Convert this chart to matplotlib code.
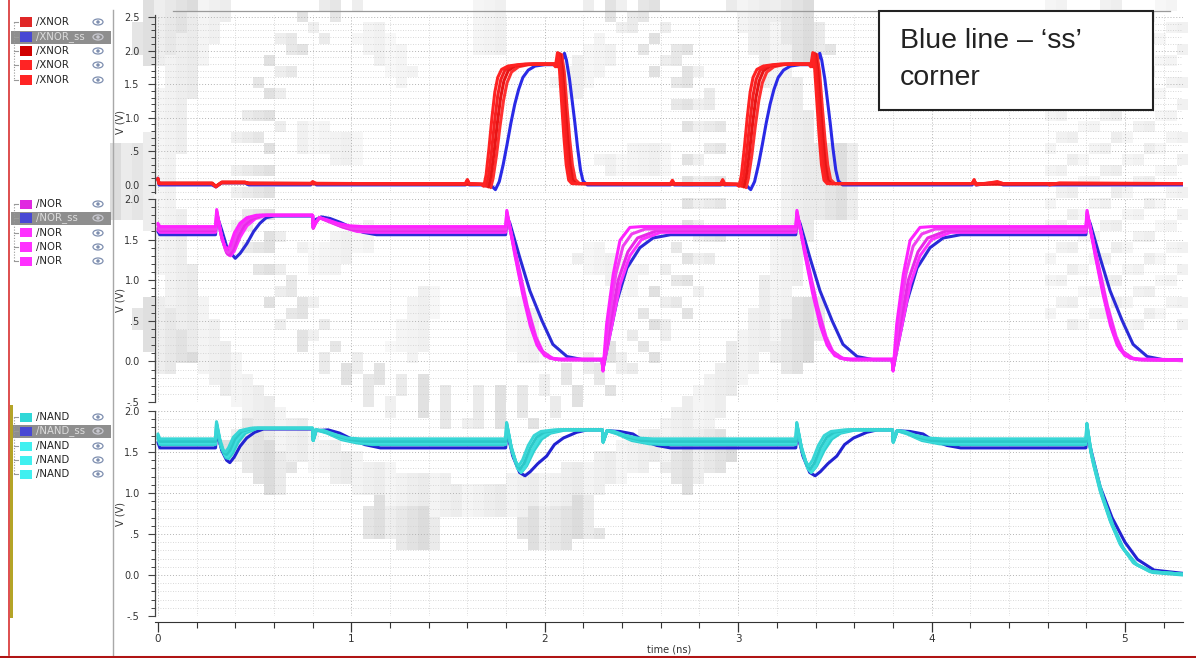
import numpy as np
import matplotlib
matplotlib.use("Agg")
import matplotlib.pyplot as plt
from matplotlib.lines import Line2D
from matplotlib.patches import Rectangle, Ellipse
from matplotlib.ticker import MultipleLocator, FuncFormatter

# ---------------------------------------------------------------------------
# Transient waveforms (time in ns, voltage in V), one list per process corner
# ---------------------------------------------------------------------------
xnor_ss = [(0.000, 0.10), (0.006, 0.00), (0.280, 0.00), (0.300, -0.03), (0.330, 0.03), (0.450, 0.03), (0.470, 0.00),
           (0.790, 0.00), (0.800, 0.04), (0.820, 0.00), (1.590, 0.00), (1.600, 0.06), (1.610, 0.00),
           (1.720, 0.00), (1.745, -0.07), (1.765, 0.05), (1.785, 0.30), (1.805, 0.60), (1.825, 0.92), (1.845, 1.20),
           (1.865, 1.42), (1.887, 1.60), (1.915, 1.71), (1.950, 1.77), (2.000, 1.79),
           (2.080, 1.79), (2.090, 1.85), (2.102, 1.96), (2.112, 1.86), (2.128, 1.58), (2.142, 1.25), (2.156, 0.92),
           (2.170, 0.55), (2.185, 0.22), (2.198, 0.06), (2.220, 0.00),
           (2.650, 0.00), (2.660, 0.05), (2.670, 0.00), (2.910, 0.00), (2.920, 0.06), (2.930, 0.00),
           (3.040, 0.00), (3.065, -0.07), (3.085, 0.05), (3.105, 0.30), (3.125, 0.60), (3.145, 0.92), (3.165, 1.20),
           (3.185, 1.42), (3.207, 1.60), (3.235, 1.71), (3.270, 1.77), (3.320, 1.79),
           (3.400, 1.79), (3.410, 1.85), (3.422, 1.96), (3.432, 1.86), (3.448, 1.58), (3.462, 1.25), (3.476, 0.92),
           (3.490, 0.55), (3.505, 0.22), (3.518, 0.06), (3.540, 0.00),
           (4.210, 0.00), (4.220, 0.06), (4.230, 0.00), (4.300, 0.02), (4.340, 0.03), (4.370, 0.00), (5.300, 0.00)]

xnor_c1 = [(0.000, 0.10), (0.006, 0.02), (0.280, 0.02), (0.300, -0.03), (0.330, 0.04), (0.450, 0.04), (0.470, 0.02),
           (0.790, 0.02), (0.800, 0.05), (0.820, 0.02), (1.590, 0.02), (1.600, 0.08), (1.610, 0.02),
           (1.670, 0.01), (1.685, -0.02), (1.697, 0.15), (1.712, 0.55), (1.727, 1.00), (1.742, 1.38), (1.757, 1.60),
           (1.777, 1.72), (1.810, 1.77), (1.860, 1.79), (1.900, 1.80),
           (2.045, 1.80), (2.055, 1.76), (2.066, 1.97), (2.076, 1.72), (2.088, 1.20), (2.099, 0.72), (2.111, 0.30),
           (2.124, 0.07), (2.140, 0.02),
           (2.650, 0.02), (2.660, 0.07), (2.670, 0.02), (2.910, 0.02), (2.920, 0.08), (2.930, 0.02),
           (2.990, 0.01), (3.005, -0.02), (3.017, 0.15), (3.032, 0.55), (3.047, 1.00), (3.062, 1.38), (3.077, 1.60),
           (3.097, 1.72), (3.130, 1.77), (3.180, 1.79), (3.220, 1.80),
           (3.365, 1.80), (3.375, 1.76), (3.386, 1.97), (3.396, 1.72), (3.408, 1.20), (3.419, 0.72), (3.431, 0.30),
           (3.444, 0.07), (3.460, 0.02),
           (4.210, 0.02), (4.220, 0.08), (4.230, 0.00), (4.300, 0.03), (4.340, 0.05), (4.370, 0.02), (4.600, 0.02),
           (4.610, 0.00), (4.660, 0.03), (5.300, 0.02)]

xnor_c2 = [(0.000, 0.09), (0.006, 0.02), (0.280, 0.02), (0.300, -0.02), (0.330, 0.04), (0.450, 0.04), (0.470, 0.02),
           (1.590, 0.02), (1.600, 0.07), (1.610, 0.02),
           (1.682, 0.01), (1.697, -0.02), (1.709, 0.13), (1.725, 0.50), (1.741, 0.95), (1.757, 1.33), (1.773, 1.57),
           (1.794, 1.71), (1.828, 1.77), (1.878, 1.79), (1.920, 1.80),
           (2.053, 1.80), (2.063, 1.76), (2.074, 1.96), (2.085, 1.70), (2.097, 1.18), (2.109, 0.70), (2.121, 0.30),
           (2.134, 0.07), (2.150, 0.02),
           (3.002, 0.01), (3.017, -0.02), (3.029, 0.13), (3.045, 0.50), (3.061, 0.95), (3.077, 1.33), (3.093, 1.57),
           (3.114, 1.71), (3.148, 1.77), (3.198, 1.79), (3.240, 1.80),
           (3.373, 1.80), (3.383, 1.76), (3.394, 1.96), (3.405, 1.70), (3.417, 1.18), (3.429, 0.70), (3.441, 0.30),
           (3.454, 0.07), (3.470, 0.02),
           (4.210, 0.02), (4.220, 0.07), (4.230, 0.01), (4.300, 0.03), (4.340, 0.04), (4.370, 0.02), (5.300, 0.02)]

xnor_c3 = [(0.000, 0.08), (0.006, 0.03), (0.280, 0.03), (0.300, -0.02), (0.330, 0.04), (0.450, 0.04), (0.470, 0.03),
           (1.694, 0.01), (1.709, -0.03), (1.721, 0.12), (1.738, 0.48), (1.755, 0.92), (1.772, 1.30), (1.789, 1.55),
           (1.811, 1.70), (1.846, 1.77), (1.896, 1.79), (1.940, 1.80),
           (2.060, 1.80), (2.070, 1.76), (2.080, 1.95), (2.092, 1.70), (2.105, 1.18), (2.118, 0.70), (2.131, 0.30),
           (2.145, 0.07), (2.162, 0.02),
           (3.014, 0.01), (3.029, -0.03), (3.041, 0.12), (3.058, 0.48), (3.075, 0.92), (3.092, 1.30), (3.109, 1.55),
           (3.131, 1.70), (3.166, 1.77), (3.216, 1.79), (3.260, 1.80),
           (3.380, 1.80), (3.390, 1.76), (3.400, 1.95), (3.412, 1.70), (3.425, 1.18), (3.438, 0.70), (3.451, 0.30),
           (3.465, 0.07), (3.482, 0.02),
           (4.210, 0.02), (4.220, 0.06), (4.230, 0.01), (5.300, 0.02)]

xnor_c4 = [(0.000, 0.08), (0.006, 0.02), (0.280, 0.02), (0.300, -0.02), (0.330, 0.03), (0.450, 0.03), (0.470, 0.02),
           (1.706, 0.01), (1.721, -0.04), (1.733, 0.10), (1.751, 0.45), (1.769, 0.88), (1.787, 1.26), (1.805, 1.52),
           (1.828, 1.68), (1.865, 1.76), (1.915, 1.79), (1.960, 1.80),
           (2.068, 1.80), (2.078, 1.76), (2.088, 1.94), (2.101, 1.68), (2.115, 1.16), (2.129, 0.68), (2.143, 0.30),
           (2.158, 0.08), (2.180, 0.02),
           (3.026, 0.01), (3.041, -0.04), (3.053, 0.10), (3.071, 0.45), (3.089, 0.88), (3.107, 1.26), (3.125, 1.52),
           (3.148, 1.68), (3.185, 1.76), (3.235, 1.79), (3.280, 1.80),
           (3.388, 1.80), (3.398, 1.76), (3.408, 1.94), (3.421, 1.68), (3.435, 1.16), (3.449, 0.68), (3.463, 0.30),
           (3.478, 0.08), (3.500, 0.02),
           (5.300, 0.02)]

nor_ss = [(0.000, 1.60), (0.010, 1.56), (0.298, 1.56), (0.305, 1.80), (0.331, 1.61), (0.360, 1.38), (0.400, 1.27),
          (0.425, 1.33), (0.460, 1.45), (0.495, 1.60), (0.527, 1.70), (0.560, 1.77), (0.600, 1.79),
          (0.800, 1.79), (0.803, 1.65), (0.818, 1.75), (0.845, 1.78), (0.890, 1.76), (0.945, 1.71), (1.000, 1.65),
          (1.060, 1.59), (1.130, 1.56),
          (1.798, 1.56), (1.805, 1.78), (1.820, 1.70), (1.872, 1.27), (1.923, 0.87), (1.986, 0.50), (2.042, 0.21),
          (2.115, 0.06), (2.200, 0.02),
          (2.296, 0.02), (2.301, -0.10), (2.322, 0.16), (2.373, 0.74), (2.425, 1.15), (2.492, 1.40), (2.560, 1.52),
          (2.650, 1.56),
          (3.298, 1.56), (3.305, 1.78), (3.320, 1.70), (3.372, 1.27), (3.423, 0.87), (3.486, 0.50), (3.542, 0.21),
          (3.615, 0.06), (3.700, 0.02),
          (3.796, 0.02), (3.801, -0.10), (3.822, 0.16), (3.873, 0.74), (3.925, 1.15), (3.992, 1.40), (4.060, 1.52),
          (4.150, 1.56),
          (4.798, 1.56), (4.805, 1.78), (4.820, 1.70), (4.872, 1.27), (4.923, 0.87), (4.986, 0.50), (5.042, 0.21),
          (5.115, 0.06), (5.200, 0.02), (5.300, 0.02)]

nor_c1 = [(0.000, 1.70), (0.010, 1.66), (0.298, 1.66), (0.304, 1.87), (0.325, 1.58), (0.345, 1.42), (0.358, 1.38),
          (0.372, 1.42), (0.395, 1.58), (0.424, 1.70), (0.460, 1.77), (0.510, 1.80),
          (0.800, 1.80), (0.803, 1.65), (0.815, 1.71), (0.835, 1.77), (0.880, 1.74), (0.930, 1.70), (0.990, 1.67),
          (1.060, 1.66),
          (1.798, 1.66), (1.804, 1.86), (1.845, 1.32), (1.885, 0.84), (1.925, 0.44), (1.960, 0.20), (2.000, 0.07),
          (2.050, 0.03),
          (2.296, 0.03), (2.301, -0.12), (2.320, 0.46), (2.354, 1.07), (2.389, 1.49), (2.440, 1.65), (2.500, 1.66),
          (3.298, 1.66), (3.304, 1.86), (3.345, 1.32), (3.385, 0.84), (3.425, 0.44), (3.460, 0.20), (3.500, 0.07),
          (3.550, 0.03),
          (3.796, 0.03), (3.801, -0.12), (3.820, 0.46), (3.854, 1.07), (3.889, 1.49), (3.940, 1.65), (4.000, 1.66),
          (4.798, 1.66), (4.804, 1.86), (4.845, 1.32), (4.885, 0.84), (4.925, 0.44), (4.960, 0.20), (5.000, 0.07),
          (5.050, 0.03), (5.300, 0.02)]

nor_c2 = [(0.000, 1.68), (0.010, 1.63), (0.298, 1.63), (0.304, 1.85), (0.328, 1.55), (0.350, 1.37), (0.364, 1.34),
          (0.380, 1.39), (0.405, 1.56), (0.435, 1.69), (0.475, 1.77), (0.525, 1.80),
          (0.800, 1.80), (0.803, 1.65), (0.815, 1.71), (0.835, 1.77), (0.885, 1.73), (0.940, 1.68), (1.000, 1.64),
          (1.070, 1.63),
          (1.798, 1.63), (1.804, 1.84), (1.850, 1.28), (1.894, 0.78), (1.937, 0.37), (1.973, 0.15), (2.025, 0.04),
          (2.070, 0.02),
          (2.296, 0.02), (2.301, -0.10), (2.325, 0.40), (2.368, 1.08), (2.405, 1.42), (2.450, 1.57), (2.520, 1.63),
          (3.298, 1.63), (3.304, 1.84), (3.350, 1.28), (3.394, 0.78), (3.437, 0.37), (3.473, 0.15), (3.525, 0.04),
          (3.570, 0.02),
          (3.796, 0.02), (3.801, -0.10), (3.825, 0.40), (3.868, 1.08), (3.905, 1.42), (3.950, 1.57), (4.020, 1.63),
          (4.798, 1.63), (4.804, 1.84), (4.850, 1.28), (4.894, 0.78), (4.937, 0.37), (4.973, 0.15), (5.025, 0.04),
          (5.070, 0.02), (5.300, 0.01)]

nor_c3 = [(0.000, 1.64), (0.010, 1.61), (0.298, 1.61), (0.305, 1.83), (0.330, 1.52), (0.355, 1.34), (0.370, 1.31),
          (0.388, 1.37), (0.415, 1.54), (0.448, 1.68), (0.490, 1.76), (0.540, 1.80),
          (0.800, 1.80), (0.803, 1.64), (0.815, 1.70), (0.835, 1.77), (0.890, 1.72), (0.950, 1.66), (1.010, 1.62),
          (1.080, 1.61),
          (1.798, 1.61), (1.805, 1.82), (1.855, 1.25), (1.900, 0.74), (1.945, 0.33), (1.980, 0.14), (2.030, 0.04),
          (2.080, 0.02),
          (2.296, 0.02), (2.301, -0.10), (2.330, 0.35), (2.380, 1.00), (2.430, 1.35), (2.480, 1.52), (2.580, 1.61),
          (3.298, 1.61), (3.305, 1.82), (3.355, 1.25), (3.400, 0.74), (3.445, 0.33), (3.480, 0.14), (3.530, 0.04),
          (3.580, 0.02),
          (3.796, 0.02), (3.801, -0.10), (3.830, 0.35), (3.880, 1.00), (3.930, 1.35), (3.980, 1.52), (4.080, 1.61),
          (4.798, 1.61), (4.805, 1.82), (4.855, 1.25), (4.900, 0.74), (4.945, 0.33), (4.980, 0.14), (5.030, 0.04),
          (5.080, 0.02), (5.300, 0.01)]

nor_c4 = [(0.000, 1.62), (0.010, 1.59), (0.298, 1.59), (0.305, 1.80), (0.333, 1.50), (0.360, 1.32), (0.376, 1.30),
          (0.395, 1.36), (0.425, 1.53), (0.460, 1.67), (0.505, 1.76), (0.560, 1.80),
          (0.800, 1.80), (0.803, 1.64), (0.815, 1.70), (0.835, 1.77), (0.895, 1.71), (0.960, 1.65), (1.030, 1.60),
          (1.100, 1.59),
          (1.798, 1.59), (1.805, 1.80), (1.860, 1.22), (1.910, 0.68), (1.955, 0.30), (1.990, 0.12), (2.040, 0.04),
          (2.090, 0.02),
          (2.296, 0.02), (2.302, -0.08), (2.335, 0.30), (2.390, 0.95), (2.440, 1.30), (2.500, 1.50), (2.600, 1.59),
          (3.298, 1.59), (3.305, 1.80), (3.360, 1.22), (3.410, 0.68), (3.455, 0.30), (3.490, 0.12), (3.540, 0.04),
          (3.590, 0.02),
          (3.796, 0.02), (3.802, -0.08), (3.835, 0.30), (3.890, 0.95), (3.940, 1.30), (4.000, 1.50), (4.100, 1.59),
          (4.798, 1.59), (4.805, 1.80), (4.860, 1.22), (4.910, 0.68), (4.955, 0.30), (4.990, 0.12), (5.040, 0.04),
          (5.090, 0.02), (5.300, 0.01)]

nand_ss = [(0.000, 1.62), (0.010, 1.55), (0.298, 1.55), (0.304, 1.75), (0.330, 1.52), (0.355, 1.40), (0.372, 1.37),
           (0.395, 1.44), (0.425, 1.57), (0.459, 1.67), (0.500, 1.74), (0.545, 1.78),
           (0.800, 1.78), (0.803, 1.65), (0.818, 1.76), (0.880, 1.77), (0.940, 1.73), (1.000, 1.66), (1.070, 1.59),
           (1.150, 1.55),
           (1.798, 1.55), (1.804, 1.75), (1.835, 1.45), (1.870, 1.25), (1.898, 1.21), (1.925, 1.26), (1.965, 1.36),
           (2.010, 1.45), (2.050, 1.59), (2.096, 1.67), (2.165, 1.74), (2.220, 1.77),
           (2.298, 1.77), (2.302, 1.63), (2.322, 1.76), (2.389, 1.75), (2.456, 1.72), (2.508, 1.64), (2.580, 1.58),
           (2.650, 1.55),
           (3.298, 1.55), (3.304, 1.75), (3.335, 1.45), (3.370, 1.25), (3.398, 1.21), (3.425, 1.26), (3.465, 1.36),
           (3.510, 1.45), (3.550, 1.59), (3.596, 1.67), (3.665, 1.74), (3.720, 1.77),
           (3.798, 1.77), (3.802, 1.63), (3.822, 1.76), (3.889, 1.75), (3.956, 1.72), (4.008, 1.64), (4.080, 1.58),
           (4.150, 1.55),
           (4.798, 1.55), (4.804, 1.72), (4.830, 1.47), (4.871, 1.08), (4.933, 0.70), (5.000, 0.40), (5.065, 0.19),
           (5.150, 0.06), (5.300, 0.02)]

nand_c1 = [(0.000, 1.72), (0.010, 1.66), (0.298, 1.66), (0.303, 1.87), (0.320, 1.66), (0.338, 1.52), (0.350, 1.50),
           (0.365, 1.55), (0.390, 1.68), (0.424, 1.76), (0.480, 1.79),
           (0.800, 1.79), (0.803, 1.64), (0.818, 1.77), (0.860, 1.76), (0.920, 1.71), (0.980, 1.67), (1.050, 1.66),
           (1.798, 1.66), (1.803, 1.86), (1.825, 1.58), (1.850, 1.38), (1.865, 1.33), (1.885, 1.40), (1.915, 1.58),
           (1.945, 1.70), (1.980, 1.75), (2.050, 1.77),
           (2.298, 1.77), (2.302, 1.62), (2.322, 1.76), (2.360, 1.75), (2.420, 1.70), (2.480, 1.67), (2.560, 1.66),
           (3.298, 1.66), (3.303, 1.86), (3.325, 1.58), (3.350, 1.38), (3.365, 1.33), (3.385, 1.40), (3.415, 1.58),
           (3.445, 1.70), (3.480, 1.75), (3.550, 1.77),
           (3.798, 1.77), (3.802, 1.62), (3.822, 1.76), (3.860, 1.75), (3.920, 1.70), (3.980, 1.67), (4.060, 1.66),
           (4.798, 1.66), (4.803, 1.85), (4.820, 1.55), (4.836, 1.36), (4.871, 1.03), (4.922, 0.67), (4.974, 0.38),
           (5.043, 0.15), (5.129, 0.04), (5.300, 0.01)]

nand_c2 = [(0.000, 1.70), (0.010, 1.63), (0.298, 1.63), (0.303, 1.85), (0.322, 1.62), (0.342, 1.49), (0.355, 1.47),
           (0.372, 1.52), (0.398, 1.66), (0.432, 1.75), (0.490, 1.79),
           (0.800, 1.79), (0.803, 1.64), (0.818, 1.77), (0.865, 1.75), (0.930, 1.69), (0.995, 1.65), (1.070, 1.63),
           (1.798, 1.63), (1.803, 1.85), (1.827, 1.55), (1.855, 1.34), (1.872, 1.29), (1.893, 1.36), (1.925, 1.55),
           (1.958, 1.68), (1.995, 1.74), (2.070, 1.77),
           (2.298, 1.77), (2.302, 1.62), (2.322, 1.76), (2.365, 1.74), (2.430, 1.68), (2.500, 1.64), (2.580, 1.63),
           (3.298, 1.63), (3.303, 1.85), (3.327, 1.55), (3.355, 1.34), (3.372, 1.29), (3.393, 1.36), (3.425, 1.55),
           (3.458, 1.68), (3.495, 1.74), (3.570, 1.77),
           (3.798, 1.77), (3.802, 1.62), (3.822, 1.76), (3.865, 1.74), (3.930, 1.68), (4.000, 1.64), (4.080, 1.63),
           (4.798, 1.63), (4.803, 1.84), (4.822, 1.52), (4.840, 1.33), (4.876, 1.00), (4.928, 0.64), (4.980, 0.36),
           (5.050, 0.14), (5.135, 0.04), (5.300, 0.01)]

nand_c3 = [(0.000, 1.68), (0.010, 1.61), (0.298, 1.61), (0.304, 1.83), (0.325, 1.58), (0.347, 1.46), (0.360, 1.44),
           (0.378, 1.50), (0.405, 1.64), (0.440, 1.74), (0.500, 1.79),
           (0.800, 1.79), (0.803, 1.64), (0.818, 1.77), (0.870, 1.74), (0.940, 1.67), (1.010, 1.63), (1.090, 1.61),
           (1.798, 1.61), (1.804, 1.83), (1.830, 1.52), (1.860, 1.30), (1.878, 1.25), (1.900, 1.32), (1.935, 1.52),
           (1.970, 1.66), (2.010, 1.73), (2.090, 1.77),
           (2.298, 1.77), (2.302, 1.62), (2.322, 1.76), (2.370, 1.73), (2.440, 1.66), (2.520, 1.62), (2.600, 1.61),
           (3.298, 1.61), (3.304, 1.83), (3.330, 1.52), (3.360, 1.30), (3.378, 1.25), (3.400, 1.32), (3.435, 1.52),
           (3.470, 1.66), (3.510, 1.73), (3.590, 1.77),
           (3.798, 1.77), (3.802, 1.62), (3.822, 1.76), (3.870, 1.73), (3.940, 1.66), (4.020, 1.62), (4.100, 1.61),
           (4.798, 1.61), (4.804, 1.82), (4.825, 1.50), (4.845, 1.30), (4.882, 0.97), (4.935, 0.61), (4.988, 0.33),
           (5.058, 0.13), (5.140, 0.04), (5.300, 0.01)]

nand_c4 = [(0.000, 1.66), (0.010, 1.59), (0.298, 1.59), (0.304, 1.81), (0.328, 1.55), (0.352, 1.43), (0.366, 1.42),
           (0.385, 1.48), (0.415, 1.62), (0.452, 1.73), (0.515, 1.79),
           (0.800, 1.79), (0.803, 1.64), (0.818, 1.77), (0.875, 1.73), (0.950, 1.65), (1.030, 1.61), (1.110, 1.59),
           (1.798, 1.59), (1.804, 1.81), (1.832, 1.50), (1.864, 1.29), (1.882, 1.26), (1.906, 1.33), (1.945, 1.52),
           (1.985, 1.66), (2.030, 1.73), (2.110, 1.77),
           (2.298, 1.77), (2.302, 1.62), (2.322, 1.76), (2.375, 1.72), (2.450, 1.64), (2.540, 1.60), (2.620, 1.59),
           (3.298, 1.59), (3.304, 1.81), (3.332, 1.50), (3.364, 1.29), (3.382, 1.26), (3.406, 1.33), (3.445, 1.52),
           (3.485, 1.66), (3.530, 1.73), (3.610, 1.77),
           (3.798, 1.77), (3.802, 1.62), (3.822, 1.76), (3.875, 1.72), (3.950, 1.64), (4.040, 1.60), (4.120, 1.59),
           (4.798, 1.59), (4.804, 1.80), (4.828, 1.47), (4.850, 1.27), (4.888, 0.94), (4.942, 0.58), (4.995, 0.31),
           (5.065, 0.12), (5.145, 0.03), (5.300, 0.00)]

# signal browser entries: (name, colour, selected)
xnor_legend = [("/XNOR", "#e02828", False), ("/XNOR_ss", "#4848d4", True), ("/XNOR", "#d00000", False),
               ("/XNOR", "#ff2424", False), ("/XNOR", "#ff2424", False)]
nor_legend = [("/NOR", "#e028e0", False), ("/NOR_ss", "#4848d4", True), ("/NOR", "#ff30ff", False),
              ("/NOR", "#ff30ff", False), ("/NOR", "#ff30ff", False)]
nand_legend = [("/NAND", "#30d8d8", False), ("/NAND_ss", "#4848d4", True), ("/NAND", "#40f0f0", False),
               ("/NAND", "#40f0f0", False), ("/NAND", "#40f0f0", False)]

W, H = 1196, 658
fig = plt.figure(figsize=(W / 100, H / 100), dpi=100)
fig.patch.set_facecolor("white")


def fx(x):
    return x / W


def fy(y):
    return 1 - y / H


def px_axes(x0, y0, x1, y1):
    return fig.add_axes([fx(x0), fy(y1), (x1 - x0) / W, (y1 - y0) / H])


# faint blocky emblem behind the whole window (gear rim, teeth and lettering band)
bg = fig.add_axes([0, 0, 1, 1], zorder=-5)
bg.set_axis_off()
bs = 11
gy, gx = np.mgrid[0:H // bs + 1, 0:W // bs + 1]
cx_px, cy_px = gx * bs + bs / 2, gy * bs + bs / 2
rr = np.hypot(cx_px - 480, cy_px - 180)
aa = np.arctan2(cy_px - 180, cx_px - 480)
tone = 0.5 + 0.5 * (((gx * 37 + gy * 91) % 7) / 6.0)
shade = np.zeros(rr.shape)
shade[(rr > 335) & (rr < 375) & (np.cos(14 * aa) > 0.1)] = 0.14
shade[(rr > 300) & (rr <= 335)] = 0.08
shade[(rr > 205) & (rr < 250) & (np.cos(55 * aa) > 0.2)] = 0.12
shade[(rr > 120) & (rr < 190) & (np.cos(9 * aa + 1) > 0.6)] = 0.06
shade[(cx_px > 1040) & (cx_px < 1190) & (cy_px < 330) & (((gx + 2 * gy) % 5) < 2)] = 0.07
bg.imshow(shade * tone, cmap="gray_r", vmin=0, vmax=1, interpolation="nearest",
          extent=[0, (W // bs + 1) * bs, (H // bs + 1) * bs, 0], aspect="auto")
bg.set_xlim(0, W)
bg.set_ylim(H, 0)


def vfmt(v, pos):
    if abs(v) < 1e-9:
        return "0.0"
    if abs(v - 0.5) < 1e-9:
        return ".5"
    if abs(v + 0.5) < 1e-9:
        return "-.5"
    return "%.1f" % v


def style_strip(ax, ylim, label_y):
    ax.set_facecolor("none")
    ax.set_xlim(-0.015, 5.30)
    ax.set_ylim(*ylim)
    for s in ("top", "right", "bottom"):
        ax.spines[s].set_visible(False)
    ax.spines["left"].set_color("#444444")
    ax.spines["left"].set_linewidth(0.9)
    ax.xaxis.set_major_locator(MultipleLocator(1))
    ax.xaxis.set_minor_locator(MultipleLocator(0.2))
    ax.yaxis.set_major_locator(MultipleLocator(0.5))
    ax.yaxis.set_minor_locator(MultipleLocator(0.1))
    ax.yaxis.set_major_formatter(FuncFormatter(vfmt))
    ax.tick_params(axis="x", which="both", length=0, labelbottom=False)
    ax.tick_params(axis="y", which="major", length=5, width=0.8, color="#444444",
                   labelsize=7, labelcolor="#333333", pad=6)
    ax.tick_params(axis="y", which="minor", length=3, width=0.7, color="#444444")
    ax.grid(which="major", color="#b4b4b4", linestyle=(0, (1, 2)), linewidth=0.7)
    ax.grid(which="minor", color="#cdcdcd", linestyle=(0, (1, 2)), linewidth=0.6)
    ax.set_axisbelow(True)
    ax.set_ylabel("V (V)", fontsize=7, color="#333333")
    ax.yaxis.set_label_coords(-0.029, label_y)


def draw_traces(ax, ss, corners, ss_color, corner_colors):
    t, v = zip(*ss)
    ax.plot(t, v, color=ss_color, lw=2.2, solid_joinstyle="round", solid_capstyle="round")
    for pts, c in zip(corners, corner_colors):
        t, v = zip(*pts)
        ax.plot(t, v, color=c, lw=2.2, solid_joinstyle="round", solid_capstyle="round")


ax_xnor = px_axes(155, 15, 1183, 193)
ax_nor = px_axes(155, 199, 1183, 402)
ax_nand = px_axes(155, 411, 1183, 616)

style_strip(ax_xnor, (-0.12, 2.53), 0.40)
style_strip(ax_nor, (-0.5, 2.0), 0.5)
style_strip(ax_nand, (-0.5, 2.0), 0.5)

draw_traces(ax_xnor, xnor_ss, [xnor_c4, xnor_c3, xnor_c2, xnor_c1], "#2a2ae6",
            ["#ff3030", "#e81414", "#f42020", "#ff2222"])
draw_traces(ax_nor, nor_ss, [nor_c4, nor_c3, nor_c2, nor_c1], "#2a2ad8",
            ["#ff30ff", "#e82ae8", "#f040f0", "#ff22ff"])
draw_traces(ax_nand, nand_ss, [nand_c4, nand_c3, nand_c2, nand_c1], "#2222d2",
            ["#30d0d0", "#40dede", "#2cc8c8", "#38d6d6"])

# time axis under the last strip
ax_nand.spines["bottom"].set_visible(True)
ax_nand.spines["bottom"].set_position(("outward", 4))
ax_nand.spines["bottom"].set_color("#333333")
ax_nand.tick_params(axis="x", which="major", length=7, width=0.9, color="#333333",
                    labelbottom=True, labelsize=7.5, labelcolor="#333333", pad=2)
ax_nand.tick_params(axis="x", which="minor", length=4, width=0.8, color="#333333")
ax_nand.set_xticks([0, 1, 2, 3, 4, 5])
ax_nand.set_xticklabels(["0", "1", "2", "3", "4", "5"])
ax_nand.set_xlabel("time (ns)", fontsize=7, color="#333333", labelpad=0)


# signal browser on the left
def draw_browser(rows_y, entries):
    fig.add_artist(Line2D([fx(14), fx(14)], [fy(rows_y[0]), fy(rows_y[-1])], transform=fig.transFigure,
                          color="#999999", lw=0.8, linestyle=(0, (1, 1.5))))
    for y, (name, col, sel) in zip(rows_y, entries):
        fig.add_artist(Line2D([fx(14), fx(18)], [fy(y), fy(y)], transform=fig.transFigure,
                              color="#999999", lw=0.8))
        if sel:
            fig.add_artist(Rectangle((fx(11), fy(y + 6.5)), 100 / W, 13 / H, transform=fig.transFigure,
                                     facecolor="#8e8e8e", edgecolor="none"))
        fig.add_artist(Rectangle((fx(20), fy(y + 4.5)), 12 / W, 9 / H, transform=fig.transFigure,
                                 facecolor=col, edgecolor="none"))
        fig.text(fx(36), fy(y), name, fontsize=7.3, va="center", ha="left",
                 color="#dddddd" if sel else "#222222")
        eye = "#c8c8d0" if sel else "#7f8fb0"
        fig.add_artist(Ellipse((fx(98), fy(y)), 10 / W, 6 / H, transform=fig.transFigure,
                               facecolor="none", edgecolor=eye, lw=0.9))
        fig.add_artist(Ellipse((fx(98), fy(y)), 3.5 / W, 3.5 / H, transform=fig.transFigure,
                               facecolor=eye, edgecolor="none"))


draw_browser([22, 37, 51, 65, 80], xnor_legend)
draw_browser([204, 218, 233, 247, 261], nor_legend)
draw_browser([417, 431, 446, 460, 474], nand_legend)

# window frame lines
fig.add_artist(Line2D([fx(9), fx(9)], [fy(0), fy(655)], transform=fig.transFigure, color="#d83030", lw=1.2))
fig.add_artist(Rectangle((fx(10), fy(618)), 3 / W, 213 / H, transform=fig.transFigure,
                         facecolor="#b4a428", edgecolor="none"))
fig.add_artist(Line2D([fx(113), fx(113)], [fy(10), fy(655)], transform=fig.transFigure, color="#a8a8a8", lw=1))
fig.add_artist(Line2D([fx(173), fx(1170)], [fy(11), fy(11)], transform=fig.transFigure, color="#9a9a9a", lw=0.9))
fig.add_artist(Line2D([0, 1], [fy(656.5), fy(656.5)], transform=fig.transFigure, color="#b01414", lw=2.2))

# annotation box
fig.add_artist(Rectangle((fx(879), fy(110)), (1153 - 879) / W, (110 - 11) / H, transform=fig.transFigure,
                         facecolor="white", edgecolor="#222222", lw=1.5, zorder=5))
fig.text(fx(900), fy(28), "Blue line \u2013 \u2018ss\u2019\ncorner", fontsize=20.5, family="Liberation Sans",
         va="top", ha="left", color="#222222", linespacing=1.55, zorder=6)

fig.savefig("out.png", dpi=100)
